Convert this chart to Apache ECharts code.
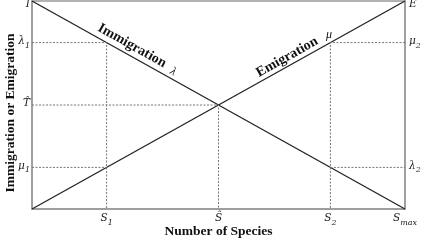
<!DOCTYPE html>
<html><head><meta charset="utf-8">
<script src="https://cdn.jsdelivr.net/npm/echarts@6/dist/echarts.min.js"></script>
<style>html,body{margin:0;padding:0;background:#fff}#c{width:426px;height:242px}</style>
</head><body><div id="c"></div>
<script>
// species axis (0 .. Smax normalized)
var speciesX = [0, 1];
var immigration = [1, 0];   // I -> 0
var emigration = [0, 1];    // 0 -> E
// marked species counts
var S1 = 0.2, Shat = 0.5, S2 = 0.8, Smax = 1;
// marked rates
var lambda1 = 0.8, mu1 = 0.2, That = 0.5, mu2 = 0.8, lambda2 = 0.2, I = 1, E = 1;
var xTicks = [S1, Shat, S2, Smax];
var xTickLabels = ['{a|S}{b|1}', '{a|Ŝ}', '{a|S}{b|2}', '{a|S}{b|max}'];
var leftTicks = [mu1, That, lambda1, I];
var leftTickLabels = ['{a|μ}{b|1}', '{a|T̂}', '{a|λ}{b|1}', '{t|I}'];
var rightTicks = [lambda2, mu2, E];
var rightTickLabels = ['{a|λ}{b|2}', '{a|μ}{b|2}', '{t|E}'];

var serif = '"DejaVu Serif","Liberation Serif",serif';
var rich = {
  a: {fontFamily: serif, fontStyle: 'italic', fontSize: 10.5, color: '#222', padding: [0,0,3,0]},
  b: {fontFamily: serif, fontStyle: 'italic', fontSize: 8, color: '#222', verticalAlign: 'bottom'},
  t: {fontFamily: serif, fontStyle: 'italic', fontSize: 10.5, color: '#222', padding: [7,0,0,0]}
};
function lookup(vals, labs) {
  return function (v) {
    for (var i = 0; i < vals.length; i++) if (Math.abs(vals[i] - v) < 1e-6) return labs[i];
    return '';
  };
}
var guide = {color: '#777', width: 1, type: [2, 1.5]};
var lineStyle = {color: '#222', width: 1.3};
var tSerif = '"Liberation Serif",serif';
var chart = echarts.init(document.getElementById('c'), null, {renderer: 'canvas'});
chart.setOption({
  animation: false,
  grid: {left: 32, right: 21, top: 1, bottom: 33, outerBoundsMode: 'none', containLabel: false,
         show: true, borderColor: '#999', borderWidth: 1.5},
  xAxis: {
    type: 'value', min: 0, max: 1,
    name: 'Number of Species', nameLocation: 'middle', nameGap: 16, nameMoveOverlap: false,
    nameTextStyle: {fontFamily: tSerif, fontWeight: 'bold', fontSize: 13.5, color: '#111'},
    axisLine: {show: true, lineStyle: {color: '#999', width: 1.5}},
    axisTick: {show: false}, splitLine: {show: false},
    axisLabel: {customValues: xTicks, formatter: lookup(xTicks, xTickLabels), rich: rich, margin: 4}
  },
  yAxis: [{
    type: 'value', min: 0, max: 1, position: 'left',
    name: 'Immigration or Emigration', nameLocation: 'middle', nameGap: 14, nameMoveOverlap: false,
    nameTextStyle: {fontFamily: tSerif, fontWeight: 'bold', fontSize: 13.5, color: '#111', padding: [0, 16, 0, 0]},
    axisLine: {show: true, lineStyle: {color: '#999', width: 1.5}},
    axisTick: {show: false}, splitLine: {show: false},
    axisLabel: {customValues: leftTicks, formatter: lookup(leftTicks, leftTickLabels), rich: rich, margin: 2}
  }, {
    type: 'value', min: 0, max: 1, position: 'right',
    axisLine: {show: true, lineStyle: {color: '#999', width: 1.5}},
    axisTick: {show: false}, splitLine: {show: false},
    axisLabel: {customValues: rightTicks, formatter: lookup(rightTicks, rightTickLabels), rich: rich, margin: 4}
  }],
  series: [
    {type: 'line', data: speciesX.map(function (x, i) { return [x, immigration[i]]; }), symbol: 'none', lineStyle: lineStyle, z: 3},
    {type: 'line', data: speciesX.map(function (x, i) { return [x, emigration[i]]; }), symbol: 'none', lineStyle: lineStyle, z: 3},
    {type: 'line', data: [[0, lambda1], [S1, lambda1], [S1, 0]], symbol: 'none', lineStyle: guide},
    {type: 'line', data: [[0, mu1], [S1, mu1]], symbol: 'none', lineStyle: guide},
    {type: 'line', data: [[0, That], [Shat, That], [Shat, 0]], symbol: 'none', lineStyle: guide},
    {type: 'line', data: [[Smax, mu2], [S2, mu2], [S2, 0]], symbol: 'none', lineStyle: guide},
    {type: 'line', data: [[S2, lambda2], [Smax, lambda2]], symbol: 'none', lineStyle: guide},
    {type: 'scatter', symbolSize: 1, silent: true, z: 4, itemStyle: {opacity: 0},
     data: [
       {value: [0.268, 0.785], label: {formatter: 'Immigration', rotate: -29.3, fontWeight: 'bold', fontSize: 14}},
       {value: [0.378, 0.66], label: {formatter: 'λ', rotate: -29.3, fontStyle: 'italic', fontSize: 12}},
       {value: [0.684, 0.73], label: {formatter: 'Emigration', rotate: 29.3, fontWeight: 'bold', fontSize: 14}},
       {value: [0.796, 0.835], label: {formatter: 'μ', fontStyle: 'italic', fontSize: 12}}
     ],
     label: {show: true, position: 'inside', fontFamily: tSerif, color: '#111', opacity: 1, textBorderWidth: 0}}
  ]
});
</script></body></html>
